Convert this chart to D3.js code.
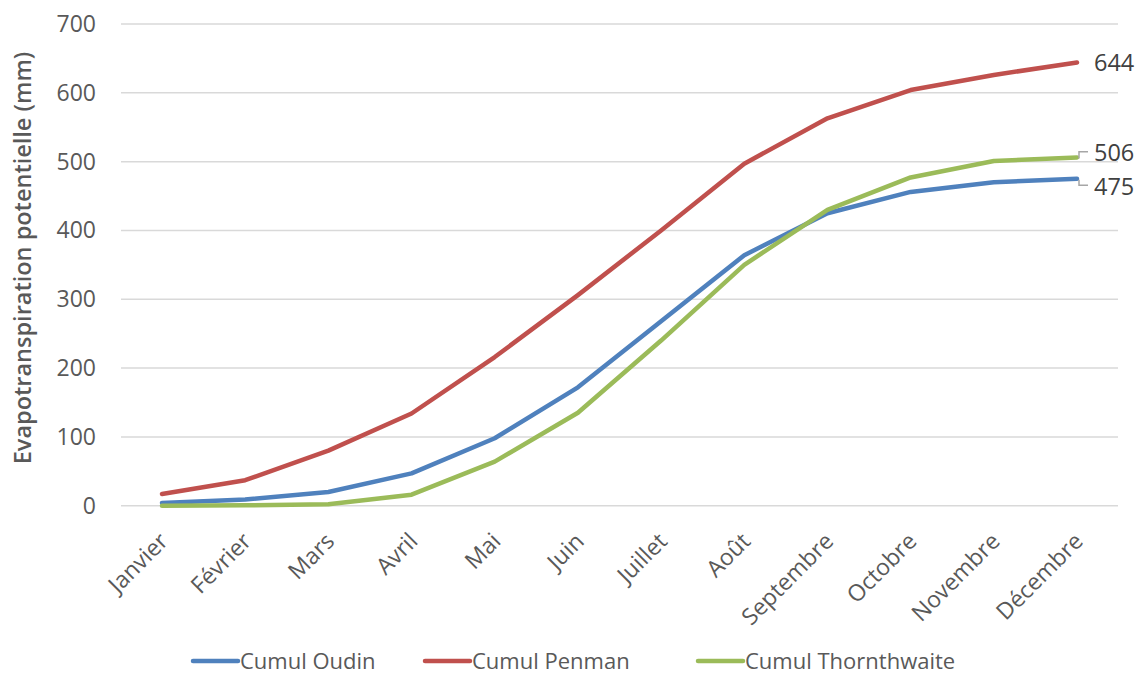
<!DOCTYPE html>
<html><head><meta charset="utf-8">
<script src="https://cdn.jsdelivr.net/npm/d3@7"></script>
<style>body{margin:0;background:#fff}svg{display:block}text{font-family:"Open Sans",sans-serif}</style>
</head><body><svg id="c" width="1141" height="677"></svg>
<script>
const months = ["Janvier","Février","Mars","Avril","Mai","Juin","Juillet","Août","Septembre","Octobre","Novembre","Décembre"];
const oudin = [4, 9, 20, 47, 98, 172, 268, 364, 425, 456, 470, 475];
const penman = [17, 37, 80, 134, 216, 306, 400, 497, 563, 604, 626, 644];
const thornthwaite = [0, 0.5, 2, 16, 64, 135, 240, 350, 430, 477, 501, 506];
const yTicks = [0,100,200,300,400,500,600,700];
const seriesNames = ["Cumul Oudin","Cumul Penman","Cumul Thornthwaite"];
const colors = ["#4F81BD","#C0504D","#9BBB59"];
const seriesData = [oudin, penman, thornthwaite];

const svg = d3.select("#c");
const x = d3.scalePoint().domain(months).range([162, 1077]);
const y = d3.scaleLinear().domain([0,700]).range([505.7, 24]);
const gridX0 = 121, gridX1 = 1118;

// gridlines
svg.append("g").selectAll("line").data(yTicks).join("line")
  .attr("x1", gridX0).attr("x2", gridX1)
  .attr("y1", d=>y(d)).attr("y2", d=>y(d))
  .attr("stroke","#d9d9d9").attr("stroke-width",1.5);

// y axis labels
const yAxis = d3.axisLeft(y).tickValues(yTicks).tickSize(0).tickPadding(0);
const gy = svg.append("g").attr("transform","translate(96,0)").call(yAxis);
gy.select(".domain").remove();
gy.selectAll("text").attr("font-size",23).attr("fill","#595959").attr("font-family","Open Sans, sans-serif");

// y title
svg.append("text").attr("transform","translate(31,258) rotate(-90)")
  .attr("text-anchor","middle").attr("font-size",23.5).attr("font-weight",600).attr("fill","#595959")
  .text("Evapotranspiration  potentielle (mm)");

// x axis labels
const xAxis = d3.axisBottom(x).tickSize(0).tickPadding(0);
const gx = svg.append("g").attr("transform","translate(0,505.7)").call(xAxis);
gx.select(".domain").remove();
gx.selectAll("text")
  .attr("font-size",23).attr("fill","#595959").attr("font-family","Open Sans, sans-serif")
  .attr("text-anchor","end").attr("dy",0).attr("y",0)
  .attr("transform","translate(7,37) rotate(-45)");

// lines
const line = d3.line().x((d,i)=>x(months[i])).y(d=>y(d));
seriesData.forEach((s,k)=>{
  svg.append("path").datum(s).attr("d",line).attr("fill","none")
    .attr("stroke",colors[k]).attr("stroke-width",4.5).attr("stroke-linejoin","round").attr("stroke-linecap","round");
});

// data labels
const last = months[months.length-1];
const lx = x(last);
svg.append("text").attr("x",lx+17).attr("y",y(penman[11])).attr("dy","0.36em")
  .attr("font-size",23.5).attr("fill","#404040").text(penman[11]);
svg.append("text").attr("x",lx+17).attr("y",y(thornthwaite[11])-5).attr("dy","0.36em")
  .attr("font-size",23.5).attr("fill","#404040").text(thornthwaite[11]);
svg.append("text").attr("x",lx+17).attr("y",y(oudin[11])+8).attr("dy","0.36em")
  .attr("font-size",23.5).attr("fill","#404040").text(oudin[11]);
// leader lines
svg.append("path").attr("d",`M${lx+2},${y(thornthwaite[11])+1} V${y(thornthwaite[11])-5.7} H${lx+11}`)
  .attr("fill","none").attr("stroke","#a6a6a6").attr("stroke-width",1.5);
svg.append("path").attr("d",`M${lx+2},${y(oudin[11])+1} V${y(oudin[11])+6.5} H${lx+11}`)
  .attr("fill","none").attr("stroke","#a6a6a6").attr("stroke-width",1.5);

// legend
const legX = [193, 425, 698];
const lg = svg.append("g");
seriesNames.forEach((n,k)=>{
  lg.append("line").attr("x1",legX[k]).attr("x2",legX[k]+45).attr("y1",661).attr("y2",661)
    .attr("stroke",colors[k]).attr("stroke-width",4.5).attr("stroke-linecap","round");
  lg.append("text").attr("x",legX[k]+47).attr("y",661).attr("dy","0.35em")
    .attr("font-size",22).attr("fill","#595959").text(n);
});
</script></body></html>
